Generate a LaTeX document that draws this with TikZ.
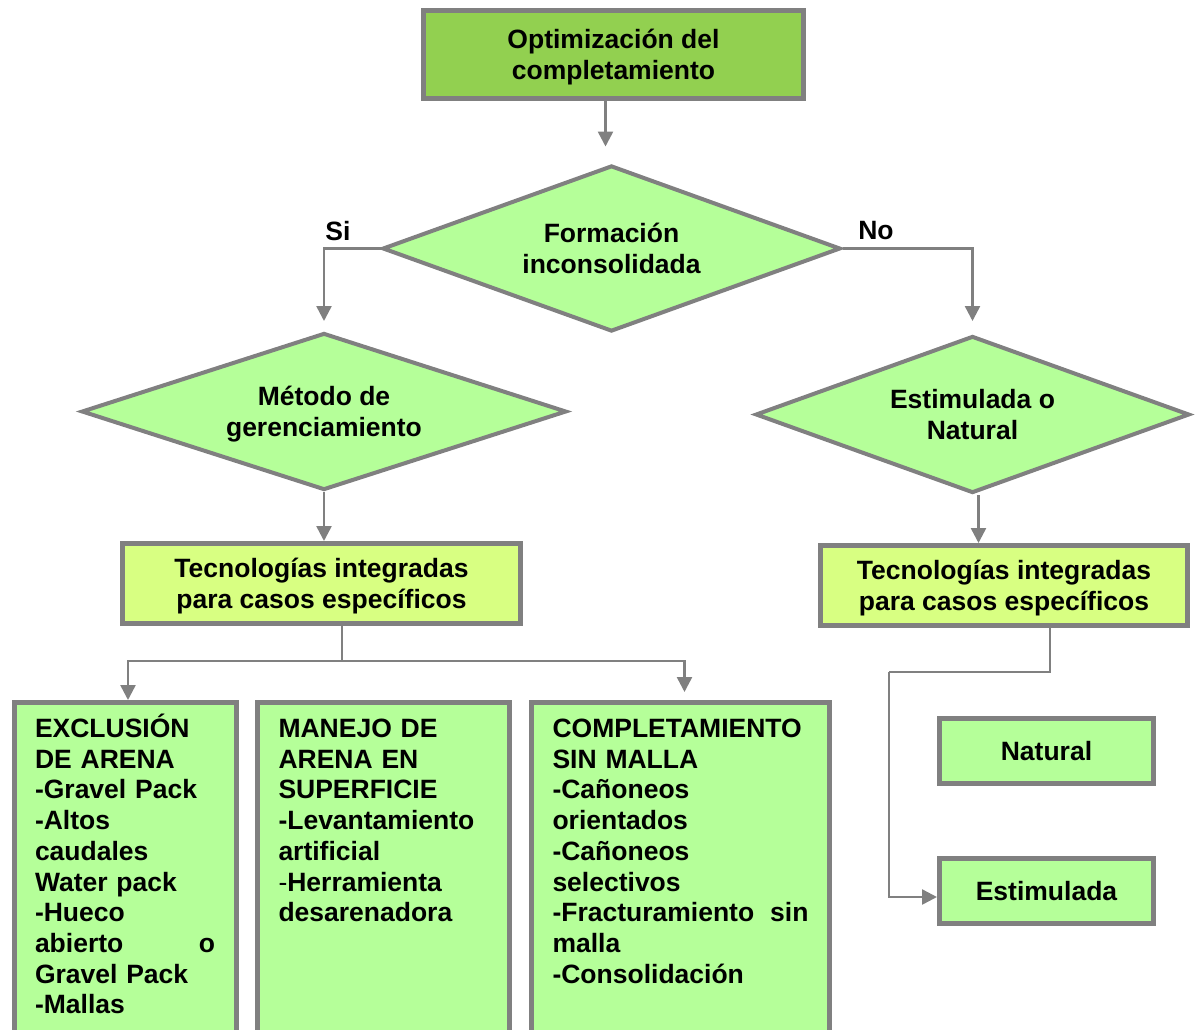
\documentclass[tikz,border=0pt]{standalone}
\usepackage{fontspec}
\setmainfont{Liberation Sans}
\usetikzlibrary{arrows.meta,positioning,shapes.geometric}
\definecolor{verdeosc}{RGB}{146,208,80}
\definecolor{verdecl}{RGB}{181,255,153}
\definecolor{verdeam}{RGB}{216,255,130}
\definecolor{gris}{RGB}{128,128,128}
\newcommand{\letra}{\fontsize{26.5}{30.7}\selectfont\bfseries}

\begin{document}
\begin{tikzpicture}[x=1pt, y=-1pt,
caja/.style={draw=gris, line width=5pt, rectangle, align=center, inner sep=0pt, text depth=0pt, font=\letra},
rombo/.style={draw=gris, line width=4pt, diamond, fill=verdecl, align=center, inner sep=0pt, text depth=0pt, font=\letra},
lista/.style={caja, fill=verdecl, anchor=north, align=left, inner xsep=21pt, inner ysep=12pt, text height=23pt, text depth=330pt},
flecha/.style={draw=gris, line width=2.5pt, -{Triangle[length=15pt,width=15pt]}},
linea/.style={draw=gris, line width=2.5pt},
etiq/.style={font=\letra, inner sep=0pt}
]
\useasboundingbox (0,0) rectangle (1197,1029);
\clip (0,0) rectangle (1197,1029);

\node[caja, fill=verdeosc, minimum width=380pt, minimum height=88pt] (opt) at (613.5,54.5) {Optimización del\\completamiento};
\node[rombo, aspect=2.76, minimum width=458pt, minimum height=166pt] (form) at (611.5,248.5) {Formación\\inconsolidada};
\node[rombo, aspect=3.09, minimum width=485pt, minimum height=157pt] (metodo) at (324,411.5) {Método de\\gerenciamiento};
\node[rombo, aspect=2.76, minimum width=434pt, minimum height=157pt] (estnat) at (972.5,414.5) {Estimulada o\\Natural};
\node[caja, fill=verdeam, minimum width=398pt, minimum height=80pt] (tecizq) at (321.5,583.5) {Tecnologías integradas\\para casos específicos};
\node[caja, fill=verdeam, minimum width=367pt, minimum height=80pt] (tecder) at (1004,585.5) {Tecnologías integradas\\para casos específicos};
\node[caja, fill=verdecl, minimum width=214pt, minimum height=65pt] (natural) at (1046.5,751) {Natural};
\node[caja, fill=verdecl, minimum width=214pt, minimum height=65pt] (estim) at (1046.5,891) {Estimulada};

% cajas de abajo
\node[lista, text width=180pt] (exclusion) at (125,700) {EXCLUSIÓN\\DE ARENA\\-Gravel Pack\\-Altos\\caudales\\Water pack\\-Hueco\\abierto\hfill o\\Gravel Pack\\-Mallas};
\node[lista, text width=210pt] (manejo) at (383.5,700) {MANEJO DE\\ARENA EN\\SUPERFICIE\\-Levantamiento\\artificial\\{\mdseries -}Herramienta\\desarenadora};
\node[lista, text width=256pt] (sinmalla) at (680.5,700) {COMPLETAMIENTO\\SIN MALLA\\-Cañoneos\\orientados\\-Cañoneos\\selectivos\\-Fracturamiento\hfill sin\\malla\\-Consolidación};

\node[etiq] (si) at (338,231) {Si};
\node[etiq] (no) at (876,231) {No};

\coordinate (p1) at ([xshift=-6pt,yshift=17pt]form.north);
\draw[flecha] (p1 |- opt.south) -- (p1);
\draw[flecha] (form.west) -| ([yshift=10pt]metodo.north);
\draw[flecha] (form.east) -| ([yshift=13pt]estnat.north);
\draw[flecha] (metodo.south) -- (metodo.south |- tecizq.north);
\draw[flecha] ([xshift=6pt]estnat.south) -- ([xshift=6pt]estnat.south |- tecder.north);

\coordinate (rama) at (342,661);
\draw[linea] (rama |- tecizq.south) -- (rama);
\draw[flecha] (rama) -| ([xshift=3pt]exclusion.north);
\draw[flecha] (rama) -| ([xshift=4pt,yshift=8pt]sinmalla.north);

\coordinate (codo) at (889,672);
\draw[linea] ([xshift=46pt]tecder.south) |- (codo);
\draw[flecha] (codo) |- ([yshift=-6pt]estim.west);
\end{tikzpicture}
\end{document}
